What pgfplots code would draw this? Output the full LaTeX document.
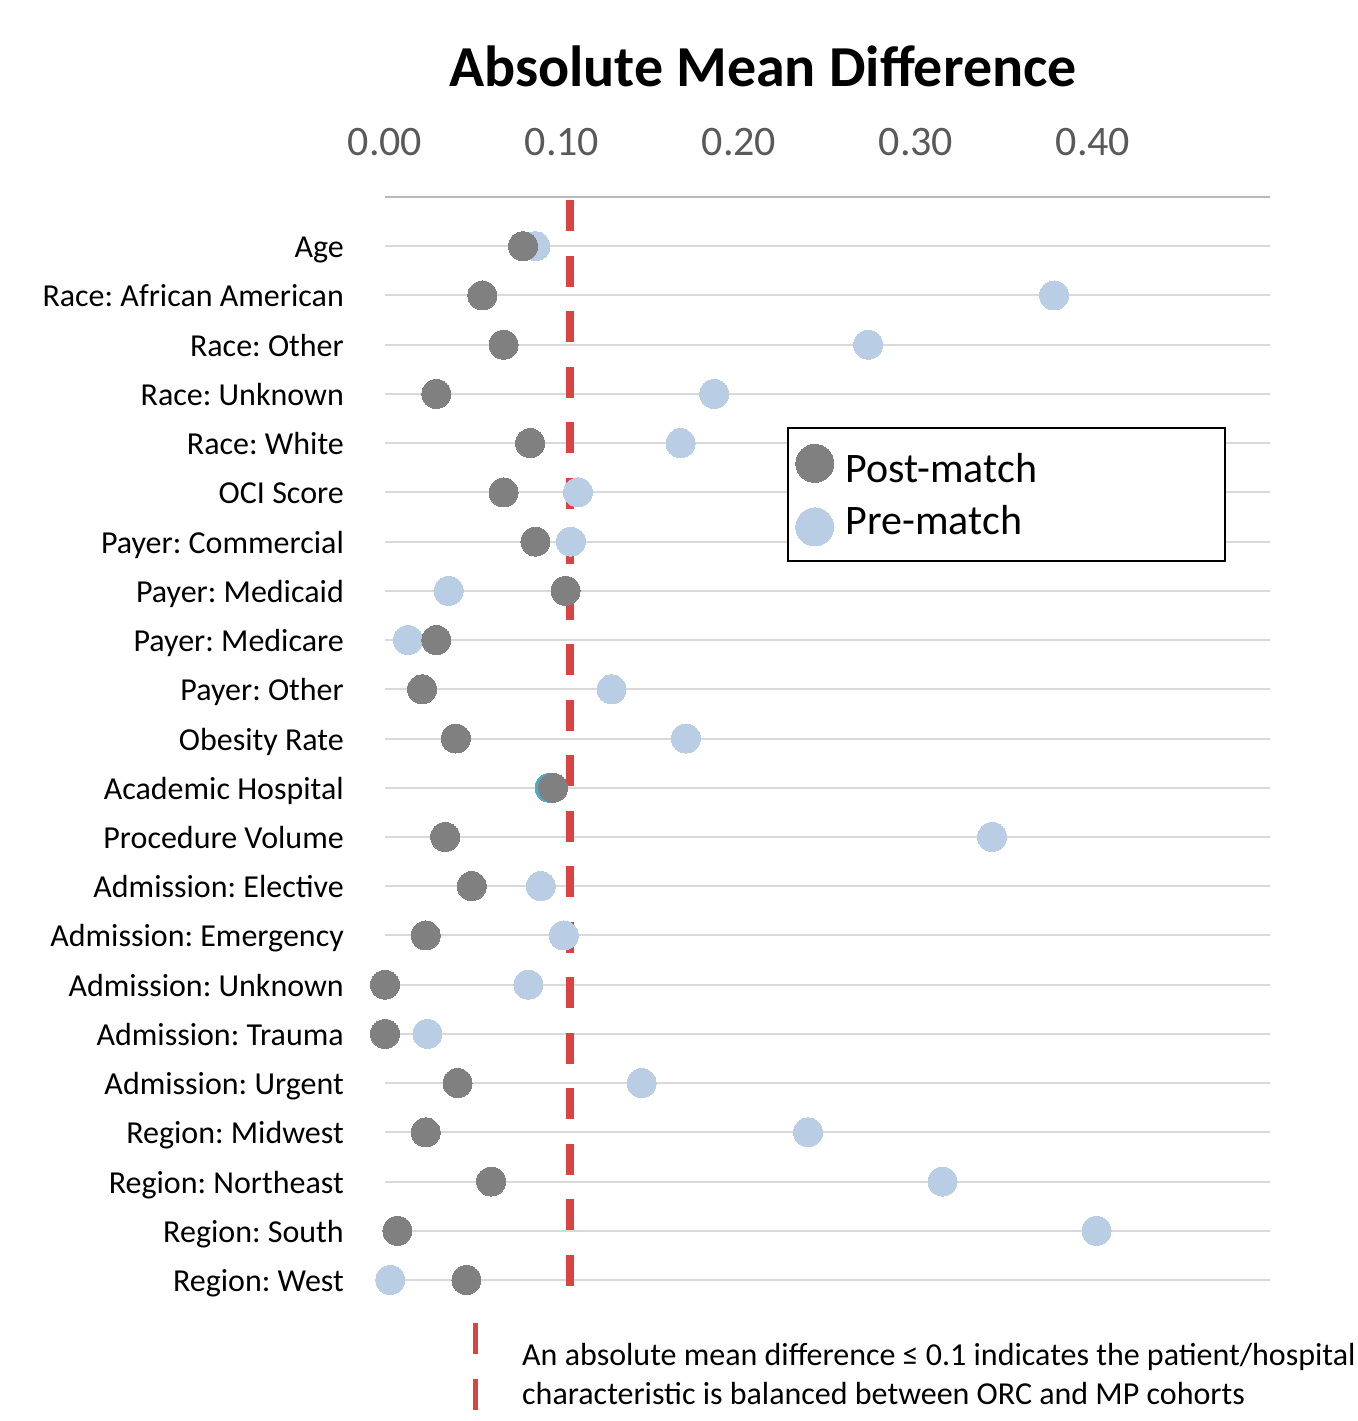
\documentclass[border=0pt]{standalone}
\usepackage{fontspec}
\setmainfont{Carlito}
\usepackage{pgfplots}
\pgfplotsset{compat=1.18}
\definecolor{postc}{HTML}{808080}
\definecolor{prec}{HTML}{B9CDE5}
\definecolor{tealc}{HTML}{4BACC6}
\definecolor{redc}{HTML}{D94341}
\definecolor{gridc}{HTML}{D9D9D9}
\definecolor{tickc}{HTML}{595959}
\frenchspacing
\newcommand{\lent}[1]{\raisebox{0pt}[40pt][12pt]{\makebox[383pt][l]{\hspace{12pt}#1}}}
\pgfplotsset{
  postleg/.style={legend image code/.code={\draw[##1, mark size=19pt, line width=0pt] plot coordinates {(0pt,0pt)};}},
  preleg/.style={legend image code/.code={\draw[##1, mark size=19pt, line width=0pt] plot coordinates {(0pt,-12pt)};}},
}
\begin{document}
\begin{tikzpicture}
\begin{axis}[
  scale only axis,
  width=885pt, height=1083pt,
  xmin=0, xmax=0.5,
  ymin=0, ymax=22,
  y dir=reverse,
  clip=false,
  axis line style={draw=none},
  major tick length=0pt,
  xtick={0,0.1,0.2,0.3,0.4},
  xticklabels={0.00,0.10,0.20,0.30,0.40},
  xticklabel pos=upper,
  xticklabel style={anchor=south, inner sep=0pt, yshift=41pt, text=tickc, font=\fontsize{42}{48}\selectfont},
  ytick={1,...,22},
  yticklabels={Age,{Race: African American},{Race: Other},{Race: Unknown},{Race: White},{OCI Score},{Payer: Commercial},{Payer: Medicaid},{Payer: Medicare},{Payer: Other},{Obesity Rate},{Academic Hospital},{Procedure Volume},{Admission: Elective},{Admission: Emergency},{Admission: Unknown},{Admission: Trauma},{Admission: Urgent},{Region: Midwest},{Region: Northeast},{Region: South},{Region: West}},
  yticklabel style={anchor=base east, inner sep=0pt, xshift=-41pt, yshift=-11.5pt, font=\fontsize{32}{36}\selectfont},
  ymajorgrids,
  grid style={gridc, line width=2pt},
  extra y ticks={0},
  extra y tick labels={},
  extra y tick style={grid style={color=black!28, line width=2pt}},
  title={Absolute Mean Difference},
  title style={at={(rel axis cs:0.427,1)}, anchor=center, yshift=125pt, font=\bfseries\fontsize{58}{66}\selectfont},
  legend style={at={(rel axis cs:0.454,0.788)}, anchor=north west, draw=black, line width=2pt,
    font=\fontsize{42}{48}\selectfont, row sep=10pt, inner xsep=8pt, inner ysep=15pt,
    nodes={inner sep=0pt}},
  legend cell align=left,
  reverse legend,
]
\addplot[only marks, mark=*, color=prec, mark size=14.5pt, line width=0pt, preleg] coordinates {
(0.085,1) (0.378,2) (0.273,3) (0.186,4) (0.167,5) (0.109,6) (0.105,7) (0.036,8) (0.013,9) (0.128,10)
(0.170,11) (0.343,13) (0.088,14) (0.101,15) (0.081,16) (0.024,17) (0.145,18) (0.239,19) (0.315,20) (0.402,21) (0.003,22)
};
\addlegendentry{\lent{Pre-match}}
\addplot[only marks, mark=*, color=tealc, mark size=14.5pt, line width=0pt, forget plot] coordinates {(0.093,12)};
\addplot[only marks, mark=*, color=postc, mark size=14.5pt, line width=0pt, postleg] coordinates {
(0.078,1) (0.055,2) (0.067,3) (0.029,4) (0.082,5) (0.067,6) (0.085,7) (0.102,8) (0.029,9) (0.021,10)
(0.040,11) (0.095,12) (0.034,13) (0.049,14) (0.023,15) (0.000,16) (0.000,17) (0.041,18) (0.023,19) (0.060,20) (0.007,21) (0.046,22)
};
\addlegendentry{\lent{Post-match}}
\addplot[redc, line width=8pt, dash pattern=on 31pt off 24.5pt, forget plot] coordinates {(0.1048,0.061) (0.1048,22.24)};
\end{axis}
\draw[redc, line width=5pt] (90pt,-43pt) -- (90pt,-74pt);
\draw[redc, line width=5pt] (90pt,-99pt) -- (90pt,-130pt);
\node[anchor=west, inner sep=0pt, font=\fontsize{32}{38.5}\selectfont, align=left] at (137pt,-94pt) {An absolute mean difference ≤ 0.1 indicates the patient/hospital\\characteristic is balanced between ORC and MP cohorts};
\pgfresetboundingbox
\path (-385pt,-141pt) rectangle (972pt,1280pt);
\end{tikzpicture}
\end{document}
